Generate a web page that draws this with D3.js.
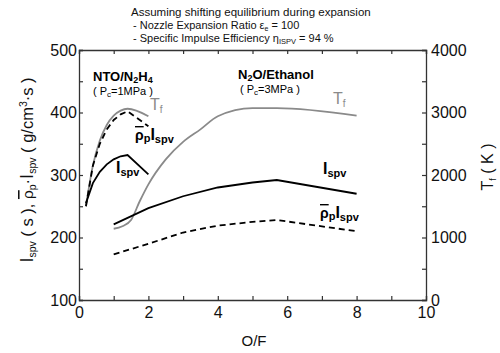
<!DOCTYPE html>
<html>
<head>
<meta charset="utf-8">
<script src="https://cdn.jsdelivr.net/npm/d3@7"></script>
<style>
  body { margin: 0; background: #fff; }
  svg { font-family: "Liberation Sans", Arial, sans-serif; }
</style>
</head>
<body>
<div id="chart"></div>
<script>
// Chart data

// NTO/N2H4 (Pc = 1 MPa)
const ntoOF = [0.2, 0.4, 0.6, 0.8, 1.0, 1.2, 1.4, 2.0];
const ntoIsp = [255, 287, 305, 317, 325, 330, 332, 301];
const ntoRhoIsp = [250, 315, 350, 373, 388, 397, 402, 378];
const ntoTf = [1500, 2150, 2550, 2800, 2950, 3030, 3060, 2940];

// N2O/Ethanol (Pc = 3 MPa)
const n2oOF = [1.0, 2.0, 3.0, 4.0, 5.0, 5.7, 8.0];
const n2oIsp = [221, 247, 266, 280, 288, 292, 270];
const n2oRhoIsp = [173, 190, 208, 219, 225, 228, 210];
const n2oTfOF = [1.0, 1.25, 1.5, 1.75, 2.0, 2.5, 3.0, 3.5, 4.0, 5.0, 5.7, 8.0];
const n2oTf = [1140, 1180, 1280, 1580, 1850, 2250, 2530, 2730, 2940, 3070, 3070, 2950];

// axis ticks
const xTicks = [0, 1, 2, 3, 4, 5, 6, 7, 8, 9, 10];
const leftTicks = [100, 150, 200, 250, 300, 350, 400, 450, 500];
const rightTicks = [0, 500, 1000, 1500, 2000, 2500, 3000, 3500, 4000];

const W = 500, H = 353;
const plot = { left: 79, right: 426, top: 50, bottom: 300 };

const svg = d3.select("#chart").append("svg")
    .attr("width", W)
    .attr("height", H);

const x = d3.scaleLinear().domain([0, 10]).range([plot.left, plot.right]);
const yL = d3.scaleLinear().domain([100, 500]).range([plot.bottom, plot.top]);
const yR = d3.scaleLinear().domain([0, 4000]).range([plot.bottom, plot.top]);

const axisColor = "#333";
const tickFont = "16px";

// bottom axis
const gB = svg.append("g")
    .attr("transform", `translate(0, ${plot.bottom})`)
    .call(d3.axisBottom(x).tickValues(xTicks).tickSize(-4).tickPadding(8)
        .tickFormat(d => d % 2 === 0 ? d : ""));
// top frame
const gT = svg.append("g")
    .attr("transform", `translate(0, ${plot.top})`)
    .call(d3.axisTop(x).tickValues(xTicks).tickSize(-4).tickFormat(""));
// left axis
const gL = svg.append("g")
    .attr("transform", `translate(${plot.left}, 0)`)
    .call(d3.axisLeft(yL).tickValues(leftTicks).tickSize(-4).tickPadding(2)
        .tickFormat(d => d % 100 === 0 ? d : ""));
// right axis
const gR = svg.append("g")
    .attr("transform", `translate(${plot.right}, 0)`)
    .call(d3.axisRight(yR).tickValues(rightTicks).tickSize(-4).tickPadding(5)
        .tickFormat(d => d % 1000 === 0 ? d : ""));

[gB, gT, gL, gR].forEach(g => {
  g.select(".domain").attr("stroke", axisColor).attr("stroke-width", 1.3);
  g.selectAll(".tick line").attr("stroke", axisColor).attr("stroke-width", 1.2);
  g.selectAll(".tick text").attr("font-size", tickFont)
      .attr("font-family", "Liberation Sans, Arial, sans-serif").attr("fill", "#111");
});
gB.selectAll(".tick text").attr("dy", "0.6em");

// line generators
const lineL = (xs) => d3.line().x((d, i) => x(xs[i])).y(d => yL(d));
const lineRc = (xs) => d3.line().x((d, i) => x(xs[i])).y(d => yR(d)).curve(d3.curveMonotoneX);

const gray = "#8a8a8a";

// NTO/N2H4
svg.append("path").datum(ntoTf)
    .attr("fill", "none").attr("stroke", gray).attr("stroke-width", 1.8)
    .attr("d", lineRc(ntoOF));
svg.append("path").datum(ntoRhoIsp)
    .attr("fill", "none").attr("stroke", "#000").attr("stroke-width", 1.8)
    .attr("stroke-dasharray", "6,4")
    .attr("d", lineL(ntoOF));
svg.append("path").datum(ntoIsp)
    .attr("fill", "none").attr("stroke", "#000").attr("stroke-width", 1.8)
    .attr("d", lineL(ntoOF));

// N2O/Ethanol
svg.append("path").datum(n2oTf)
    .attr("fill", "none").attr("stroke", gray).attr("stroke-width", 1.8)
    .attr("d", lineRc(n2oTfOF));
svg.append("path").datum(n2oRhoIsp)
    .attr("fill", "none").attr("stroke", "#000").attr("stroke-width", 1.8)
    .attr("stroke-dasharray", "6,4")
    .attr("d", lineL(n2oOF));
svg.append("path").datum(n2oIsp)
    .attr("fill", "none").attr("stroke", "#000").attr("stroke-width", 1.8)
    .attr("d", lineL(n2oOF));

// helper for subscripted labels
function label(xp, yp, parts, opts = {}) {
  const t = svg.append("text")
      .attr("x", xp).attr("y", yp)
      .attr("font-weight", opts.weight || "normal")
      .attr("fill", opts.color || "#000");
  parts.forEach(p => {
    const s = t.append("tspan").text(p.t).attr("font-size", p.size);
    if (p.dy) s.attr("dy", p.dy);
    if (p.over) s.attr("text-decoration", "overline");
  });
  return t;
}

// header text
svg.append("text").attr("x", 131).attr("y", 16).attr("font-size", "11.5px").attr("fill", "#111")
    .text("Assuming shifting equilibrium during expansion");
label(133, 29, [
  { t: "- Nozzle Expansion Ratio  ε", size: "11px" },
  { t: "e", size: "7px", dy: 2 },
  { t: " = 100", size: "11px", dy: -2 }
], { color: "#111" });
label(133, 42, [
  { t: "- Specific Impulse Efficiency η", size: "11px" },
  { t: "ISPV", size: "7.5px", dy: 2 },
  { t: " = 94 %", size: "11px", dy: -2 }
], { color: "#111" });

// propellant labels
label(93, 81, [
  { t: "NTO/N", size: "13px" }, { t: "2", size: "9px", dy: 2 },
  { t: "H", size: "13px", dy: -2 }, { t: "4", size: "9px", dy: 2 }
], { weight: "bold" });
label(93, 95, [
  { t: "( P", size: "11px" }, { t: "c", size: "8px", dy: 2 },
  { t: "=1MPa )", size: "11px", dy: -2 }
]);
label(238, 79, [
  { t: "N", size: "13px" }, { t: "2", size: "9px", dy: 2 },
  { t: "O/Ethanol", size: "13px", dy: -2 }
], { weight: "bold" });
label(240, 93, [
  { t: "( P", size: "11px" }, { t: "c", size: "8px", dy: 2 },
  { t: "=3MPa )", size: "11px", dy: -2 }
]);

// curve labels
function tfLabel(xp, yp) {
  label(xp, yp, [
    { t: "T", size: "16px" }, { t: "f", size: "10px", dy: 3 }
  ], { color: gray });
}
function ispLabel(xp, yp) {
  label(xp, yp, [
    { t: "I", size: "16px" }, { t: "spv", size: "11px", dy: 3 }
  ], { weight: "bold" });
}
function rhoIspLabel(xp, yp) {
  label(xp, yp, [
    { t: "ρ", size: "14px", over: true }, { t: "p", size: "11px", dy: 2 },
    { t: "I", size: "16px", dy: -2 }, { t: "spv", size: "11px", dy: 3 }
  ], { weight: "bold" });
}
tfLabel(150, 110);
rhoIspLabel(135, 140);
ispLabel(116, 173);
tfLabel(333, 104);
ispLabel(323, 174);
rhoIspLabel(320, 218);

// axis titles
label(0, 0, [
  { t: "I", size: "18px" }, { t: "spv", size: "10.5px", dy: 3 },
  { t: " ( s ),  ", size: "16.5px", dy: -3 },
  { t: "ρ", size: "15.5px", over: true }, { t: "p", size: "10.5px", dy: 3 },
  { t: "·", size: "16.5px", dy: -3 },
  { t: "I", size: "18px" }, { t: "spv", size: "10.5px", dy: 3 },
  { t: " ( g/cm", size: "16.5px", dy: -3 },
  { t: "3", size: "10.5px", dy: -6 },
  { t: "·s )", size: "16.5px", dy: 6 }
], { color: "#111" })
  .attr("text-anchor", "middle")
  .attr("transform", "translate(33, 170) rotate(-90)");

label(0, 0, [
  { t: "T", size: "16px" }, { t: "f", size: "9px", dy: 3 },
  { t: " ( K )", size: "16px", dy: -3 }
], { color: "#111" })
  .attr("text-anchor", "middle")
  .attr("transform", "translate(493, 167) rotate(-90)");

svg.append("text").attr("x", 254).attr("y", 346)
    .attr("text-anchor", "middle").attr("font-size", "15px").attr("fill", "#111")
    .text("O/F");
</script>
</body>
</html>
